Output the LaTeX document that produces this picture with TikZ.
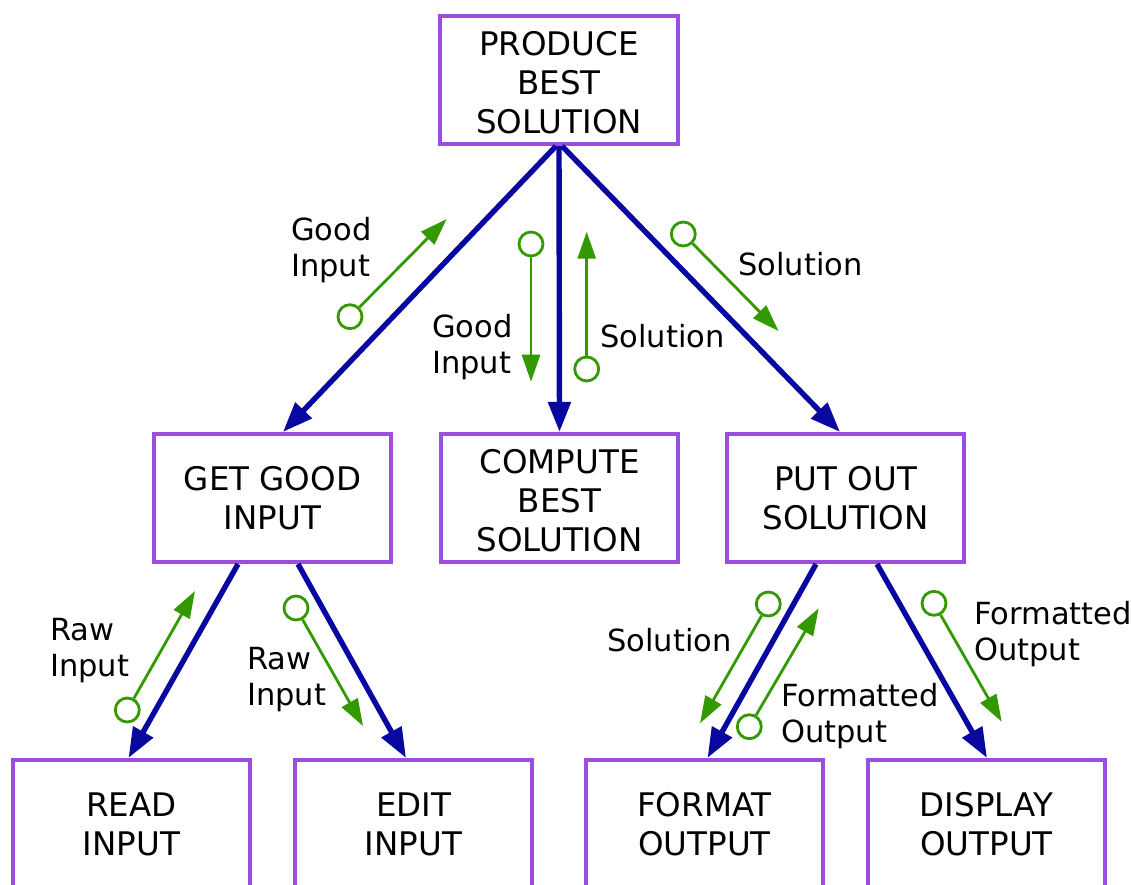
\documentclass[tikz,border=0pt]{standalone}
\usepackage{fontspec}
\setmainfont{DejaVu Sans}
\usetikzlibrary{arrows.meta}
\definecolor{boxpurple}{RGB}{155,77,224}
\definecolor{flowblue}{RGB}{8,8,160}
\definecolor{datagreen}{RGB}{51,153,0}
\newcommand{\topstrut}{\rule{0pt}{30pt}}
\tikzset{
  modbox/.style={draw=boxpurple, line width=3.6pt, minimum width=237.5pt, minimum height=128.5pt,
    align=center, font=\fontsize{32.5}{39}\selectfont, inner sep=0pt},
  callarrow/.style={draw=flowblue, line width=5.4pt, -{Triangle[length=30pt,width=22pt]}},
  gcirc/.style={circle, draw=datagreen, line width=2.8pt, minimum size=24pt, inner sep=0pt},
  garrow/.style={draw=datagreen, line width=2.8pt, -{Triangle[length=27pt,width=18pt]}},
  glabel/.style={anchor=west, align=left, inner sep=0pt, font=\fontsize{30.5}{36}\selectfont}
}
\begin{document}
\begin{tikzpicture}[x=1pt,y=-1pt]
\useasboundingbox (0,0) rectangle (1131,884);
% boxes
\node[modbox] (top)  at (559,80)    {\topstrut PRODUCE\\BEST\\SOLUTION};
\node[modbox] (get)  at (272.5,498) {GET GOOD\\INPUT};
\node[modbox] (comp) at (559.5,498) {\topstrut COMPUTE\\BEST\\SOLUTION};
\node[modbox] (put)  at (845.5,498) {PUT OUT\\SOLUTION};
\node[modbox] (read) at (131.5,824) {READ\\INPUT};
\node[modbox] (edit) at (413.5,824) {EDIT\\INPUT};
\node[modbox] (fmt)  at (704.5,824) {FORMAT\\OUTPUT};
\node[modbox] (disp) at (986.5,824) {DISPLAY\\OUTPUT};
% call arrows
\draw[callarrow] ([xshift=-3pt]top.south) -- ([xshift=10.5pt]get.north);
\draw[callarrow] (top.south) -- (comp.north);
\draw[callarrow] ([xshift=3pt]top.south) -- ([xshift=-5.5pt]put.north);
\draw[callarrow] ([xshift=-34.5pt]get.south) -- ([xshift=-3pt]read.north);
\draw[callarrow] ([xshift=25.5pt]get.south) -- ([xshift=-7.5pt]edit.north);
\draw[callarrow] ([xshift=-29.5pt]put.south) -- ([xshift=3pt]fmt.north);
\draw[callarrow] ([xshift=31.5pt]put.south) -- ([xshift=0.5pt]disp.north);
% data couples
\node[gcirc] (c1) at (350,316.7) {};   \coordinate (e1) at (446.7,219);
\node[gcirc] (c2) at (531,244) {};     \coordinate (e2) at (531,381.7);
\node[gcirc] (c3) at (586.7,369) {};   \coordinate (e3) at (586.7,231.7);
\node[gcirc] (c4) at (683.3,234) {};   \coordinate (e4) at (778.5,331);
\node[gcirc] (c5) at (127.3,710) {};   \coordinate (e5) at (195,591);
\node[gcirc] (c6) at (296,608) {};     \coordinate (e6) at (363,726);
\node[gcirc] (c7) at (768.3,604) {};   \coordinate (e7) at (700,723.3);
\node[gcirc] (c8) at (749.3,726.7) {}; \coordinate (e8) at (818.7,608.3);
\node[gcirc] (c9) at (934,603.3) {};   \coordinate (e9) at (1001.7,721.7);
\foreach \i in {1,...,9} {\draw[garrow] (c\i) -- (e\i);}
% labels
\node[glabel] (l1) at (291,250) {Good\\Input};
\node[glabel] (l2) at (432,347) {Good\\Input};
\node[glabel] (l3) at (600,336) {Solution};
\node[glabel] (l4) at (738,264) {Solution};
\node[glabel] (l5) at (50,651) {Raw\\Input};
\node[glabel] (l6) at (247,680) {Raw\\Input};
\node[glabel] (l7) at (607,640) {Solution};
\node[glabel] (l8) at (781,716) {Formatted\\Output};
\node[glabel] (l9) at (974,634) {Formatted\\Output};
\end{tikzpicture}
\end{document}
